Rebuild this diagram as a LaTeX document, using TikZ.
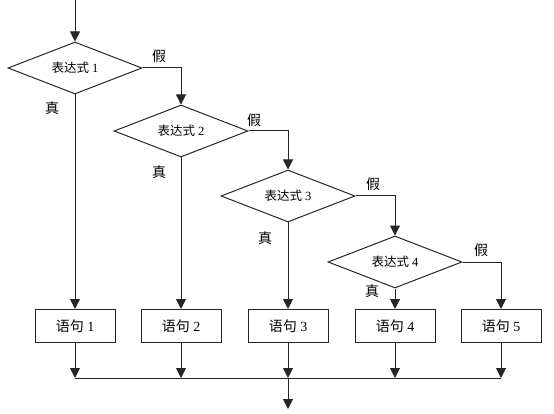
\documentclass[tikz,border=0pt]{standalone}
\usepackage{fontspec}
\setmainfont{Liberation Serif}
\newfontfamily\cjk{Noto Sans CJK SC}
\usetikzlibrary{shapes.geometric,arrows.meta}
\tikzset{
  dec/.style={draw=black!85, line width=1pt, shape=diamond, aspect=3, inner sep=0pt, minimum width=134pt, minimum height=52pt, font=\fontsize{12.5}{13}\selectfont},
  stmt/.style={draw=black!85, line width=1pt, rectangle, inner sep=0pt, minimum width=80pt, minimum height=33pt, font=\fontsize{14}{15}\selectfont},
  arr/.style={draw=black!85, line width=1pt, -{Triangle[length=10pt,width=10pt]}},
  ln/.style={draw=black!85, line width=1pt},
  lab/.style={font=\cjk\fontsize{14}{15}\selectfont, inner sep=0pt}
}
\begin{document}
\begin{tikzpicture}[x=1pt,y=-1pt]
\useasboundingbox (0,0) rectangle (554,414);
\coordinate (top) at (75,0);
\node[dec] (d1) at (75,68) {{\cjk 表达式} 1};
\node[dec] (d2) at (181,131) {{\cjk 表达式} 2};
\node[dec] (d3) at (288,196) {{\cjk 表达式} 3};
\node[dec] (d4) at (395,262) {{\cjk 表达式} 4};
\node[stmt] (b1) at (75,326) {{\cjk 语句} 1};
\node[stmt] (b2) at (181,326) {{\cjk 语句} 2};
\node[stmt] (b3) at (288,326) {{\cjk 语句} 3};
\node[stmt] (b4) at (395,326) {{\cjk 语句} 4};
\node[stmt] (b5) at (501,326) {{\cjk 语句} 5};
\foreach \i/\x in {1/75,2/181,3/288,4/395,5/501} {
  \coordinate (j\i) at (\x,378);
  \draw[arr] (b\i.south) -- (j\i);
}
\coordinate (end) at (288,409);
\draw[arr] (top) -- (d1.north);
\draw[arr] (d1.east) -| (d2.north);
\draw[arr] (d2.east) -| (d3.north);
\draw[arr] (d3.east) -| (d4.north);
\draw[arr] (d4.east) -| (b5.north);
\draw[arr] (d1.south) -- (b1.north);
\draw[arr] (d2.south) -- (b2.north);
\draw[arr] (d3.south) -- (b3.north);
\draw[arr] (d4.south) -- (b4.north);
\draw[ln] (j1) -- (j5);
\draw[arr] (j3) -- (end);
\node[lab] (f1) at (159,56) {假};
\node[lab] (t1) at (52,108) {真};
\node[lab] (f2) at (254,120) {假};
\node[lab] (t2) at (159,172) {真};
\node[lab] (f3) at (373,184) {假};
\node[lab] (t3) at (265,238) {真};
\node[lab] (f4) at (481,250) {假};
\node[lab] (t4) at (372,291) {真};
\end{tikzpicture}
\end{document}
